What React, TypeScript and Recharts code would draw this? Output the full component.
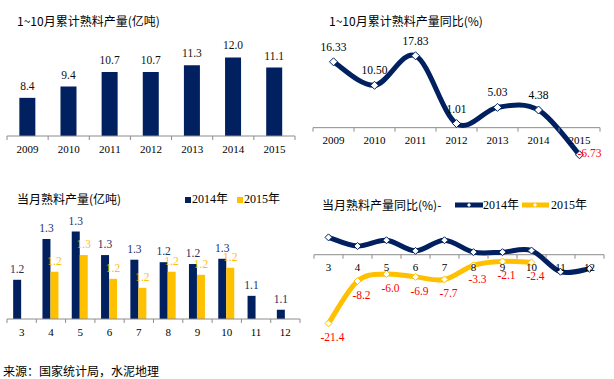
import * as React from 'react';
import {
  Bar,
  BarChart,
  LabelList,
  Line,
  LineChart,
  ReferenceLine,
  XAxis,
  YAxis,
} from 'recharts';

// 1~10月累计
const years = ['2009', '2010', '2011', '2012', '2013', '2014', '2015'];
const cumOutput = [8.4, 9.4, 10.7, 10.7, 11.3, 12.0, 11.1];
const cumYoy = [16.33, 10.5, 17.83, 1.01, 5.03, 4.38, -6.73];

// 当月
const months = ['3', '4', '5', '6', '7', '8', '9', '10', '11', '12'];
const monthOutput2014 = [1.187, 1.319, 1.343, 1.267, 1.252, 1.244, 1.238, 1.255, 1.135, 1.09];
const monthOutput2015 = [null, 1.213, 1.267, 1.19, 1.161, 1.213, 1.203, 1.226, null, null];
const monthYoy2014 = [5.4, 2.7, 4.5, 1.2, 4.5, 0.8, 0.8, 1.3, -5.3, -4.4];
const monthYoy2015 = [-21.4, -8.2, -6.0, -6.9, -7.7, -3.3, -2.1, -2.4, null, null];

const NAVY = '#002060';
const GOLD = '#FFC000';
const AXIS = '#8c8c8c';
const SERIF = '"Liberation Serif", "Times New Roman", "Noto Sans CJK SC", serif';
const CJK = '"Noto Sans CJK SC", sans-serif';

const cumData = years.map((year, i) => ({ year, output: cumOutput[i], yoy: cumYoy[i] }));
const monthData = months.map((month, i) => ({
  month,
  out2014: monthOutput2014[i],
  out2015: monthOutput2015[i],
  yoy2014: monthYoy2014[i],
  yoy2015: monthYoy2015[i],
}));

// excel-like smoothed line (catmull-rom as bezier)
const excelSmooth = (context: any) => {
  let pts: number[][] = [];
  return {
    areaStart() {},
    areaEnd() {},
    lineStart() {
      pts = [];
    },
    point(x: number, y: number) {
      pts.push([+x, +y]);
    },
    lineEnd() {
      if (!pts.length) return;
      context.moveTo(pts[0][0], pts[0][1]);
      for (let i = 0; i < pts.length - 1; i++) {
        const p0 = pts[i - 1] || pts[i];
        const p1 = pts[i];
        const p2 = pts[i + 1];
        const p3 = pts[i + 2] || p2;
        context.bezierCurveTo(
          p1[0] + (p2[0] - p0[0]) / 6,
          p1[1] + (p2[1] - p0[1]) / 6,
          p2[0] - (p3[0] - p1[0]) / 6,
          p2[1] - (p3[1] - p1[1]) / 6,
          p2[0],
          p2[1]
        );
      }
    },
  };
};

// category axis tick: label + boundary marks like excel
const makeTick = (shift: number, last: string) => (props: any) => {
  const { x, y, payload } = props;
  const half = payload.offset || 0;
  const y0 = y + shift;
  return (
    <g>
      <line x1={x - half} x2={x - half} y1={y0} y2={y0 + 4} stroke={AXIS} />
      {payload.value === last && (
        <line x1={x + half} x2={x + half} y1={y0} y2={y0 + 4} stroke={AXIS} />
      )}
      <text
        x={x}
        y={y0 + 12.5}
        textAnchor="middle"
        dominantBaseline="central"
        fontFamily={SERIF}
        fontSize={11}
        fill="#000"
      >
        {payload.value}
      </text>
    </g>
  );
};

const diamondDot = (stroke: string, r: number) => (props: any) => {
  const { cx, cy, index, value } = props;
  if (cx == null || cy == null || value == null) return <g key={index} />;
  return (
    <polygon
      key={index}
      points={`${cx},${cy - r} ${cx + r},${cy} ${cx},${cy + r} ${cx - r},${cy}`}
      fill="#fff"
      stroke={stroke}
      strokeWidth={1}
    />
  );
};

const cumYoyLabel = (props: any) => {
  const { x, y, value } = props;
  if (value == null) return null;
  const neg = value < 0;
  return (
    <text
      x={neg ? x - 2 : x}
      y={neg ? y - 2 : y - 11}
      textAnchor={neg ? 'start' : 'middle'}
      dominantBaseline={neg ? 'central' : 'auto'}
      fontFamily={SERIF}
      fontSize={11.5}
      fill={neg ? '#ff0000' : '#000'}
    >
      {Number(value).toFixed(2)}
    </text>
  );
};

const monthYoyLabel = (props: any) => {
  const { x, y, value } = props;
  if (value == null) return null;
  return (
    <text
      x={x + 4}
      y={y + 14}
      textAnchor="middle"
      dominantBaseline="central"
      fontFamily={SERIF}
      fontSize={11.5}
      fill="#ff0000"
    >
      {Number(value).toFixed(1)}
    </text>
  );
};

const fmt1 = (v: any) => (v == null ? '' : Number(v).toFixed(1));

const titleStyle: React.CSSProperties = {
  position: 'absolute',
  fontFamily: CJK,
  fontSize: 12,
  lineHeight: '16px',
  color: '#000',
  whiteSpace: 'nowrap',
};

const legendText: React.CSSProperties = {
  position: 'absolute',
  fontFamily: SERIF,
  fontSize: 12,
  lineHeight: '16px',
  color: '#000',
  whiteSpace: 'nowrap',
};

export default function App() {
  return (
    <div
      style={{
        position: 'absolute',
        left: 0,
        top: 0,
        width: 614,
        height: 379,
        background: '#fff',
        overflow: 'hidden',
      }}
    >
      {/* top left */}
      <div style={{ ...titleStyle, left: 17, top: 13 }}>1~10月累计熟料产量(亿吨)</div>
      <div style={{ position: 'absolute', left: 0, top: 0 }}>
        <BarChart
          width={307}
          height={170}
          data={cumData}
          margin={{ top: 35, right: 12, left: 7, bottom: 10 }}
          barCategoryGap="30%"
        >
          <XAxis
            dataKey="year"
            height={24}
            interval={0}
            axisLine={{ stroke: AXIS }}
            tickLine={false}
            tickSize={0}
            tickMargin={0}
            tick={makeTick(0, years[years.length - 1])}
          />
          <YAxis hide domain={[5, 14]} />
          <Bar dataKey="output" fill={NAVY} isAnimationActive={false}>
            <LabelList
              dataKey="output"
              position="top"
              offset={8}
              formatter={fmt1}
              fill="#111"
              fontFamily={SERIF}
              fontSize={11.5}
            />
          </Bar>
        </BarChart>
      </div>

      {/* top right */}
      <div style={{ ...titleStyle, left: 329, top: 13 }}>1~10月累计熟料产量同比(%)</div>
      <div style={{ position: 'absolute', left: 307, top: 0 }}>
        <LineChart
          width={307}
          height={180}
          data={cumData}
          margin={{ top: 47, right: 14, left: 6, bottom: 10 }}
        >
          <XAxis
            dataKey="year"
            scale="band"
            height={2}
            interval={0}
            axisLine={false}
            tickLine={false}
            tickSize={0}
            tickMargin={0}
            tick={makeTick(-(121 * 10) / 30, years[years.length - 1])}
          />
          <YAxis hide domain={[-10, 20]} />
          <ReferenceLine y={0} stroke={AXIS} />
          <Line
            dataKey="yoy"
            type={excelSmooth as any}
            stroke={NAVY}
            strokeWidth={5}
            dot={diamondDot(NAVY, 4)}
            activeDot={false}
            isAnimationActive={false}
          >
            <LabelList dataKey="yoy" content={cumYoyLabel} />
          </Line>
        </LineChart>
      </div>

      {/* bottom left */}
      <div style={{ ...titleStyle, left: 17, top: 191 }}>当月熟料产量(亿吨)</div>
      <div
        style={{ position: 'absolute', left: 185, top: 196.5, width: 6, height: 6, background: NAVY }}
      />
      <div style={{ ...legendText, left: 192, top: 191 }}>2014年</div>
      <div
        style={{ position: 'absolute', left: 237, top: 196.5, width: 6, height: 6, background: GOLD }}
      />
      <div style={{ ...legendText, left: 244, top: 191 }}>2015年</div>
      <div style={{ position: 'absolute', left: 0, top: 190 }}>
        <BarChart
          width={307}
          height={160}
          data={monthData}
          margin={{ top: 24, right: 7, left: 7, bottom: 11 }}
          barCategoryGap="21%"
          barGap={0}
        >
          <XAxis
            dataKey="month"
            height={20}
            interval={0}
            axisLine={{ stroke: AXIS }}
            tickLine={false}
            tickSize={0}
            tickMargin={0}
            tick={makeTick(0, months[months.length - 1])}
          />
          <YAxis hide domain={[1.06, 1.4]} allowDataOverflow />
          <Bar dataKey="out2014" fill={NAVY} isAnimationActive={false}>
            <LabelList
              dataKey="out2014"
              position="top"
              offset={7}
              formatter={fmt1}
              fill="#1c2f66"
              fontFamily={SERIF}
              fontSize={11.5}
            />
          </Bar>
          <Bar dataKey="out2015" fill={GOLD} isAnimationActive={false}>
            <LabelList
              dataKey="out2015"
              position="top"
              offset={7}
              formatter={fmt1}
              fill={GOLD}
              fontFamily={SERIF}
              fontSize={11.5}
            />
          </Bar>
        </BarChart>
      </div>

      {/* bottom right */}
      <div style={{ ...titleStyle, left: 322, top: 197 }}>当月熟料产量同比(%)-</div>
      <svg style={{ position: 'absolute', left: 453, top: 199 }} width={100} height={12}>
        <line x1={2} x2={30} y1={6} y2={6} stroke={NAVY} strokeWidth={5} />
        <polygon points="16,4 18,6 16,8 14,6" fill="#fff" />
        <line x1={69} x2={96} y1={6} y2={6} stroke={GOLD} strokeWidth={5} />
        <polygon points="82,4 84,6 82,8 80,6" fill="#fff" />
      </svg>
      <div style={{ ...legendText, left: 483, top: 197 }}>2014年</div>
      <div style={{ ...legendText, left: 551, top: 197 }}>2015年</div>
      <div style={{ position: 'absolute', left: 307, top: 190 }}>
        <LineChart
          width={307}
          height={160}
          data={monthData}
          margin={{ top: 32.6, right: 10, left: 7, bottom: 13 }}
        >
          <XAxis
            dataKey="month"
            scale="band"
            height={2}
            interval={0}
            axisLine={false}
            tickLine={false}
            tickSize={0}
            tickMargin={0}
            tick={makeTick(-(112.4 * 25) / 35, months[months.length - 1])}
          />
          <YAxis hide domain={[-25, 10]} />
          <ReferenceLine y={0} stroke={AXIS} />
          <Line
            dataKey="yoy2014"
            type={excelSmooth as any}
            stroke={NAVY}
            strokeWidth={5}
            dot={diamondDot(NAVY, 3.5)}
            activeDot={false}
            isAnimationActive={false}
          />
          <Line
            dataKey="yoy2015"
            type={excelSmooth as any}
            stroke={GOLD}
            strokeWidth={5}
            dot={diamondDot(GOLD, 3.5)}
            activeDot={false}
            isAnimationActive={false}
          >
            <LabelList dataKey="yoy2015" content={monthYoyLabel} />
          </Line>
        </LineChart>
      </div>

      <div style={{ ...titleStyle, left: 3, top: 363 }}>来源：国家统计局，水泥地理</div>
    </div>
  );
}
